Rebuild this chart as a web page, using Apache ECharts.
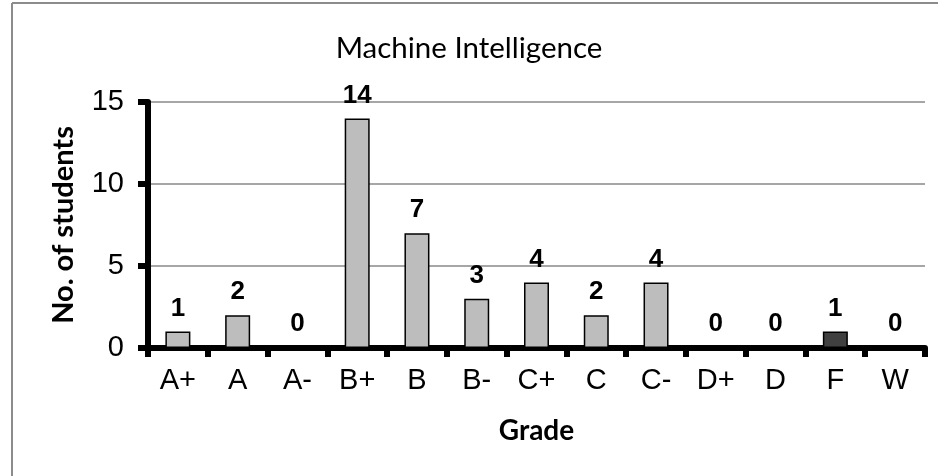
<!DOCTYPE html>
<html>
<head>
<meta charset="utf-8">
<script src="https://cdn.jsdelivr.net/npm/echarts@6/dist/echarts.min.js"></script>
<style>
  html, body { margin: 0; padding: 0; background: #fff; }
  #chart { width: 938px; height: 476px; }
</style>
</head>
<body>
<div id="chart"></div>
<script>
// grades and how many students got each
const grades = ['A+', 'A', 'A-', 'B+', 'B', 'B-', 'C+', 'C', 'C-', 'D+', 'D', 'F', 'W'];
const counts = [1, 2, 0, 14, 7, 3, 4, 2, 4, 0, 0, 1, 0];
const failGrade = 'F';
const yTicks = [0, 5, 10, 15];

const chart = echarts.init(document.getElementById('chart'));

const barData = counts.map((v, i) => ({
    value: v,
    itemStyle: { color: grades[i] === failGrade ? '#404040' : '#bdbdbd' }
}));

chart.setOption({
    animation: false,
    title: {
        text: 'Machine Intelligence',
        left: 'center',
        top: 28,
        textStyle: { fontFamily: 'Lato', fontWeight: 'normal', fontSize: 29.5, color: '#000' }
    },
    grid: { left: 148, right: 13, top: 102, bottom: 128 },
    // left and top edges of the frame around the chart
    graphic: [
        { type: 'line', shape: { x1: 12, y1: 3, x2: 12, y2: 476 }, style: { stroke: '#8c8c8c', lineWidth: 2 } },
        { type: 'line', shape: { x1: 12, y1: 3, x2: 938, y2: 3 }, style: { stroke: '#8c8c8c', lineWidth: 2 } }
    ],
    xAxis: {
        type: 'category',
        data: grades,
        name: 'Grade',
        nameLocation: 'middle',
        nameGap: 69,
        nameTextStyle: { fontFamily: 'Lato', fontWeight: 'bold', fontSize: 28, color: '#000' },
        axisLine: { lineStyle: { color: '#000', width: 6 } },
        axisTick: { show: true, length: 9, lineStyle: { color: '#000', width: 6 } },
        axisLabel: { margin: 18, fontFamily: 'Liberation Sans', fontSize: 29, color: '#000' }
    },
    yAxis: {
        type: 'value',
        min: yTicks[0],
        max: yTicks[yTicks.length - 1],
        interval: 5,
        name: 'No. of students',
        nameLocation: 'middle',
        nameGap: 70,
        nameRotate: 90,
        nameTextStyle: { fontFamily: 'Lato', fontWeight: 'bold', fontSize: 29, color: '#000' },
        axisLine: { show: true, lineStyle: { color: '#000', width: 6 } },
        axisTick: { show: true, length: 10, lineStyle: { color: '#000', width: 6 } },
        axisLabel: { margin: 24, fontFamily: 'Liberation Sans', fontSize: 29, color: '#000' },
        splitLine: { lineStyle: { color: '#888', width: 1.5 } }
    },
    series: [{
        type: 'bar',
        data: barData,
        barWidth: 25,
        itemStyle: { borderColor: '#000', borderWidth: 1.5 },
        label: {
            show: true,
            position: 'top',
            distance: 10,
            fontFamily: 'Liberation Sans',
            fontWeight: 'bold',
            fontSize: 26,
            color: '#000'
        }
    }]
});
</script>
</body>
</html>
